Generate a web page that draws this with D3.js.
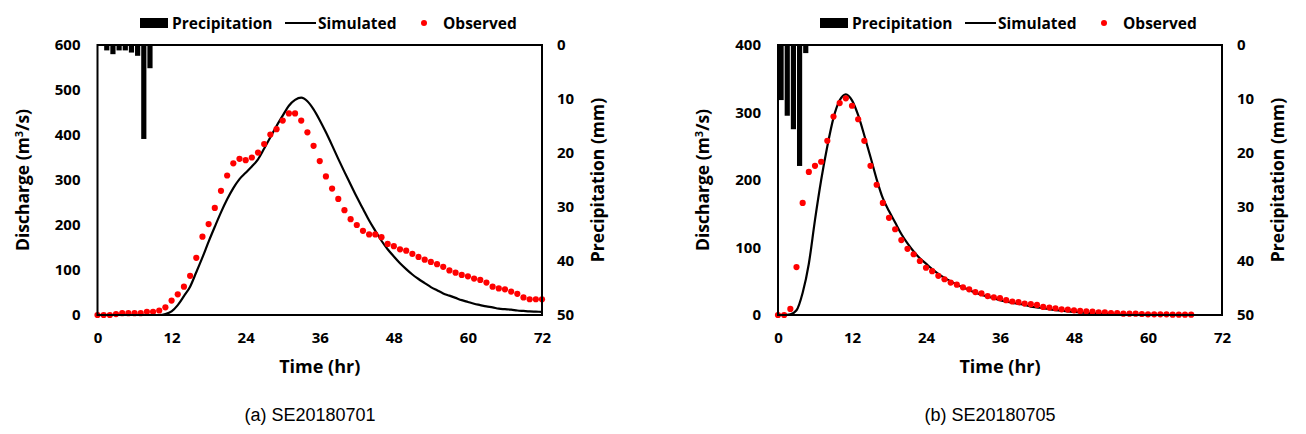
<!DOCTYPE html>
<html>
<head>
<meta charset="utf-8">
<script src="https://cdn.jsdelivr.net/npm/d3@7"></script>
<style>
  body { margin: 0; background: #fff; }
  svg { display: block; font-family: 'Open Sans', sans-serif; }
</style>
</head>
<body>
<svg id="chart" width="1306" height="434"></svg>
<script>
// --- Data ---
const timeTicks = [0, 12, 24, 36, 48, 60, 72];
const precipTicks = [0, 10, 20, 30, 40, 50];
const dischargeTicksA = [0, 100, 200, 300, 400, 500, 600];
const dischargeTicksB = [0, 100, 200, 300, 400];

// hourly rainfall (mm), index = start hour
const precipA = [0, 1.0, 1.7, 1.0, 1.0, 1.4, 2.0, 17.4, 4.3];
const precipB = [10.2, 13.1, 15.6, 22.4, 1.5];

// observed discharge (m3/s), index = hour
const observedA = [0, 0, 0, 2, 4, 4, 4, 4, 7, 7, 10, 17, 32, 46, 63, 87, 127, 174, 202, 238,
  276, 310, 337, 347, 344, 350, 361, 380, 401, 413, 432, 448, 448, 432, 406, 376, 342, 308, 281, 258,
  233, 213, 200, 187, 179, 179, 173, 158, 153, 146, 143, 136, 129, 123, 118, 113, 107, 99, 94, 89,
  86, 81, 78, 72, 63, 59, 57, 52, 47, 39, 35, 35, 35];
const observedB = [0, 0, 9, 71, 166, 212, 221, 227, 258, 294, 314, 321, 310, 290, 258, 221, 193, 166, 144, 127,
  111, 98, 90, 80, 70, 65, 58, 53, 48, 45, 41, 38, 34, 32, 28, 26, 25, 22, 20, 19,
  17, 16, 15, 12, 11, 10, 8.4, 8, 7, 6, 5.5, 5, 4, 4, 3, 3, 2, 2, 2, 1.5,
  1, 1, 1, 1, 0.5, 0.5, 0.5, 0.5];

// simulated discharge (m3/s), index = hour
const simulatedA = [0, 0, 0, 0, 0, 0, 0, 0, 0, 0, 0, 2, 8, 22, 42, 63, 95, 128, 163, 196,
  228, 257, 282, 302, 316, 330, 346, 370, 395, 420, 443, 465, 478, 483, 475, 457, 433, 406, 377, 347,
  318, 290, 262, 236, 210, 187, 165, 146, 130, 115, 102, 90, 80, 71, 62, 55, 48, 43, 38, 33,
  29, 25, 22, 19, 17, 14, 13, 12, 10, 9, 8, 7.5, 7];
const simulatedB = [0, 0, 1, 7, 33, 76, 141, 200, 250, 292, 318, 327, 318, 296, 266, 234, 201, 173, 154, 137,
  120, 106, 94, 84, 76, 68, 61, 55, 50, 45, 41, 37, 33, 30, 27, 25, 22, 20, 18, 16.5,
  15, 12.5, 11.2, 10, 8.5, 7.3, 6.3, 5.4, 4.6, 3.9, 3.2, 2.6, 2.1, 1.6, 1.2, 0.9, 0.6, 0.4, 0.2, 0,
  0, 0, 0, 0, 0, 0, 0, 0, 0, 0, 0, 0, 0];

const panels = [
  { left: 97.5, right: 542, qMax: 600, qTicks: dischargeTicksA, precip: precipA, obs: observedA, sim: simulatedA,
    legendX: 140, caption: '(a)  SE20180701', captionX: 310 },
  { left: 778, right: 1222, qMax: 400, qTicks: dischargeTicksB, precip: precipB, obs: observedB, sim: simulatedB,
    legendX: 820, caption: '(b)  SE20180705', captionX: 990 }
];

const svg = d3.select('#chart');
svg.append('rect').attr('width', 1306).attr('height', 434).attr('fill', '#fff');

const TOP = 45, BOTTOM = 315;

function drawPanel(p) {
  const g = svg.append('g');
  const x = d3.scaleLinear().domain([0, 72]).range([p.left, p.right]);
  const y = d3.scaleLinear().domain([0, p.qMax]).range([BOTTOM, TOP]);
  const yp = d3.scaleLinear().domain([0, 50]).range([TOP, BOTTOM]);

  // precipitation bars hanging from the top
  g.selectAll('.bar')
    .data(p.precip)
    .join('rect')
    .attr('x', (d, i) => x(i + 0.08))
    .attr('y', yp(0))
    .attr('width', x(0.84) - x(0))
    .attr('height', d => yp(d) - yp(0))
    .attr('fill', '#000');

  // simulated hydrograph
  const line = d3.line()
    .x((d, i) => x(i))
    .y(d => y(d))
    .curve(d3.curveMonotoneX);
  g.append('path')
    .datum(p.sim)
    .attr('d', line)
    .attr('fill', 'none')
    .attr('stroke', '#000')
    .attr('stroke-width', 2.2);

  // observed points
  g.selectAll('.obs')
    .data(p.obs)
    .join('circle')
    .attr('cx', (d, i) => x(i))
    .attr('cy', d => y(d))
    .attr('r', 3.1)
    .attr('fill', '#ff0000');

  // plot frame
  g.append('rect')
    .attr('x', p.left).attr('y', TOP)
    .attr('width', p.right - p.left).attr('height', BOTTOM - TOP)
    .attr('fill', 'none').attr('stroke', '#000').attr('stroke-width', 2);

  // axes (labels only)
  const styleAxis = sel => {
    sel.select('.domain').remove();
    sel.selectAll('text')
      .style('font-family', 'Open Sans')
      .style('font-weight', 700)
      .style('font-size', '15px')
      .attr('fill', '#000');
  };
  g.append('g')
    .attr('transform', `translate(0, ${BOTTOM})`)
    .call(d3.axisBottom(x).tickValues(timeTicks).tickSize(0).tickPadding(17))
    .call(styleAxis);
  g.append('g')
    .attr('transform', `translate(${p.left}, 0)`)
    .call(d3.axisLeft(y).tickValues(p.qTicks).tickSize(0).tickPadding(17))
    .call(styleAxis);
  g.append('g')
    .attr('transform', `translate(${p.right}, 0)`)
    .call(d3.axisRight(yp).tickValues(precipTicks).tickSize(0).tickPadding(15))
    .call(styleAxis);

  // axis titles
  const cx = (p.left + p.right) / 2;
  g.append('text')
    .attr('x', cx).attr('y', 373)
    .attr('text-anchor', 'middle')
    .style('font-weight', 700).style('font-size', '18px')
    .text('Time (hr)');

  const yt = g.append('text')
    .attr('transform', `translate(${p.left - 69}, 180) rotate(-90)`)
    .attr('text-anchor', 'middle')
    .style('font-weight', 700).style('font-size', '17.5px');
  yt.append('tspan').text('Discharge (m');
  yt.append('tspan').attr('dy', -6).style('font-size', '11px').text('3');
  yt.append('tspan').attr('dy', 6).text('/s)');

  g.append('text')
    .attr('transform', `translate(${p.right + 62}, 180) rotate(-90)`)
    .attr('text-anchor', 'middle')
    .style('font-weight', 700).style('font-size', '17.5px')
    .text('Precipitation (mm)');

  // legend
  const lg = g.append('g').attr('transform', `translate(${p.legendX}, 23)`)
    .style('font-weight', 700).style('font-size', '15.5px');
  lg.append('rect').attr('x', 0).attr('y', -5).attr('width', 28).attr('height', 10).attr('fill', '#000');
  lg.append('text').attr('x', 32).attr('y', 5.5).text('Precipitation');
  lg.append('line').attr('x1', 145).attr('x2', 176).attr('y1', 0).attr('y2', 0)
    .attr('stroke', '#000').attr('stroke-width', 2);
  lg.append('text').attr('x', 178).attr('y', 5.5).text('Simulated');
  lg.append('circle').attr('cx', 284).attr('cy', 0).attr('r', 3).attr('fill', '#ff0000');
  lg.append('text').attr('x', 303).attr('y', 5.5).text('Observed');

  // caption
  g.append('text')
    .attr('x', p.captionX).attr('y', 421)
    .attr('text-anchor', 'middle')
    .style('font-family', 'Liberation Sans')
    .style('font-size', '18px')
    .text(p.caption);
}

panels.forEach(drawPanel);
</script>
</body>
</html>
